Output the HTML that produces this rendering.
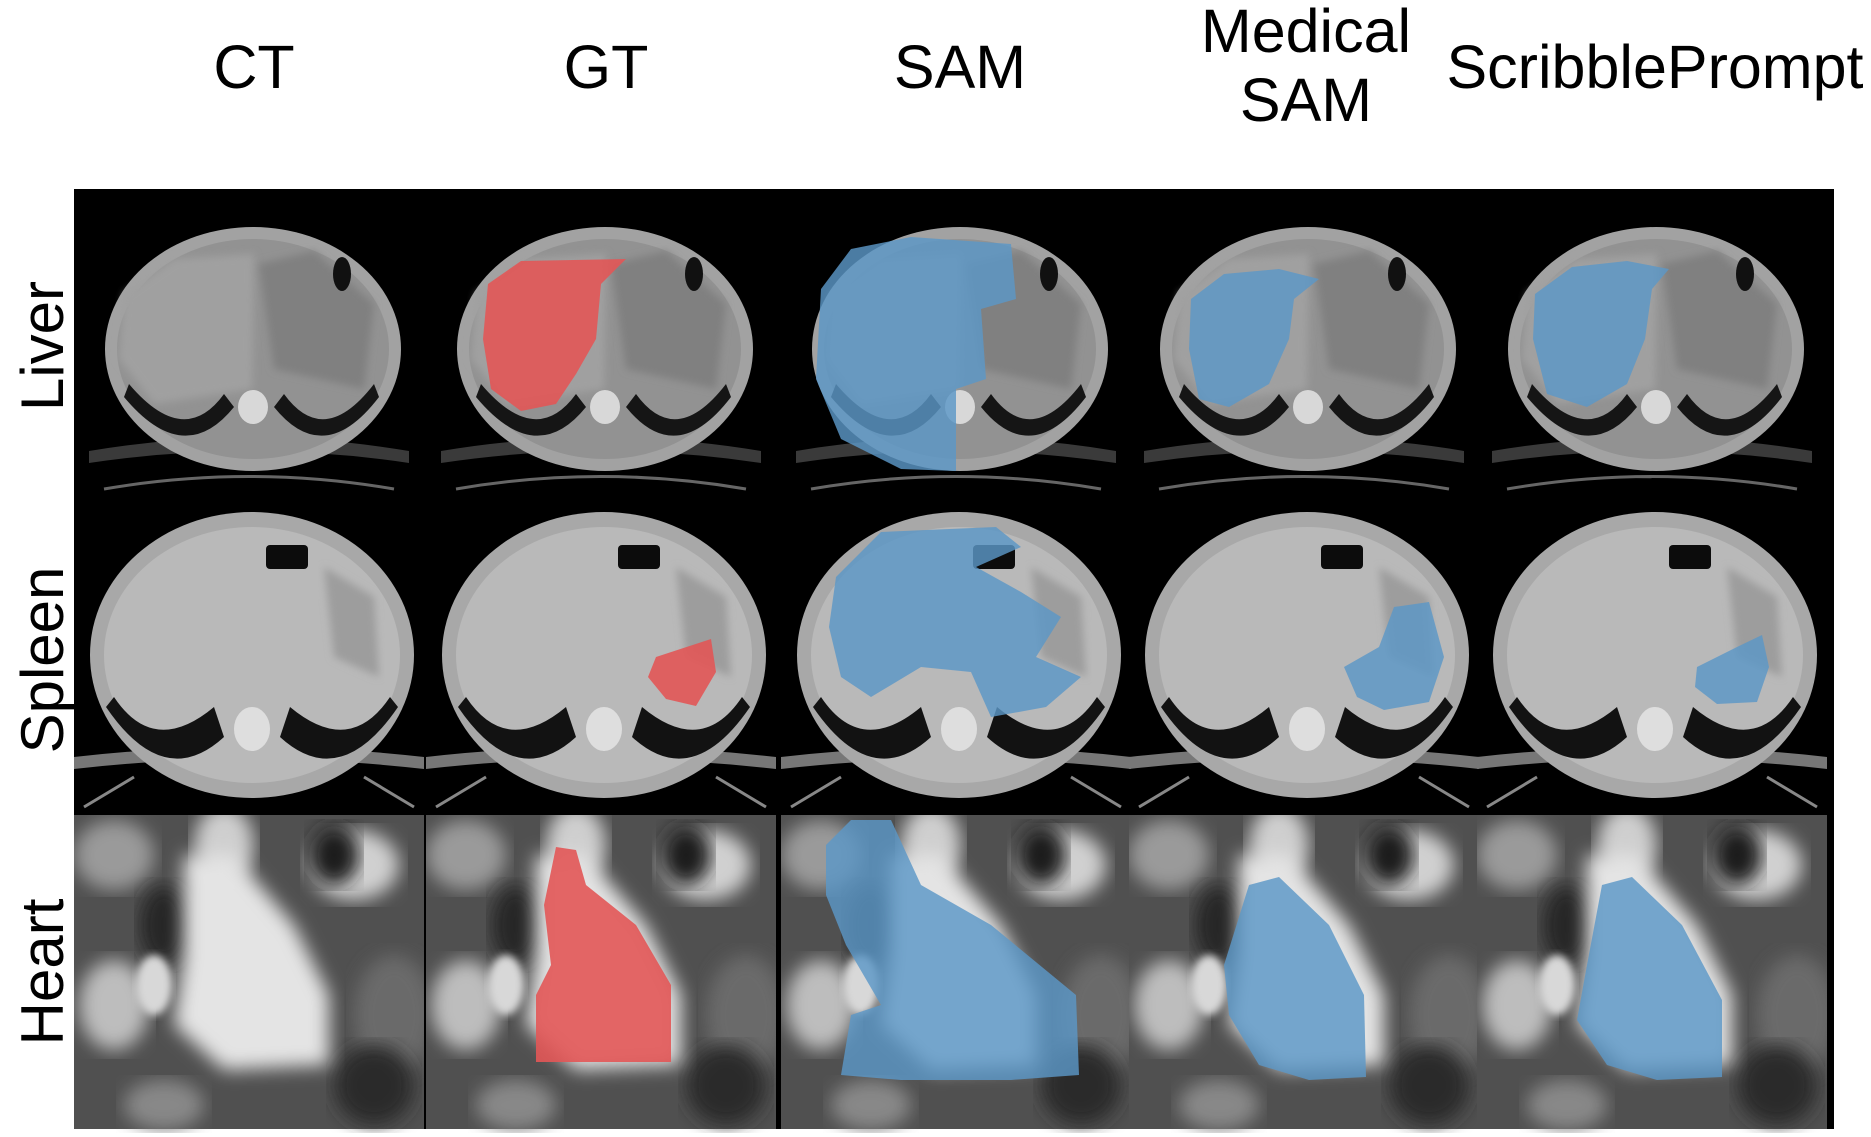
<!DOCTYPE html>
<html><head><meta charset="utf-8"><style>
html,body{margin:0;padding:0;background:#fff;width:1871px;height:1137px;overflow:hidden}
svg{display:block}
text{font-family:"Liberation Sans",Arial,sans-serif;fill:#000}
</style></head><body>
<svg id="fig" width="1871" height="1137" viewBox="0 0 1871 1137" xmlns="http://www.w3.org/2000/svg">
<defs>
<filter id="blur4"><feGaussianBlur stdDeviation="4"/></filter>
<filter id="blur8"><feGaussianBlur stdDeviation="9"/></filter>
<clipPath id="cellclip"><rect x="0" y="0" width="350" height="318"/></clipPath>
</defs>
<rect x="74" y="189" width="1760" height="940" fill="#000"/>
<g id="headers">
<text x="254" y="88" font-size="61" text-anchor="middle">CT</text>
<text x="606" y="88" font-size="61" text-anchor="middle">GT</text>
<text x="960" y="88" font-size="61" text-anchor="middle">SAM</text>
<text x="1306" y="52" font-size="61" text-anchor="middle"><tspan x="1306">Medical</tspan><tspan x="1306" dy="69">SAM</tspan></text>
<text x="1655" y="88" font-size="61" text-anchor="middle">ScribblePrompt</text>
</g>
<text transform="translate(63,346) rotate(-90)" font-size="60" text-anchor="middle">Liver</text>
<text transform="translate(63,660) rotate(-90)" font-size="60" text-anchor="middle">Spleen</text>
<text transform="translate(63,972) rotate(-90)" font-size="60" text-anchor="middle">Heart</text>
<g id="cells"></g>
</svg>
<script>
const colX = [74, 426, 781, 1129, 1477];
const rowY = [189, 507, 815];
const rowH = [318, 308, 314];
const colNames = ['ct','gt','sam','medical-sam','scribbleprompt'];
const rowNames = ['liver','spleen','heart'];
const masks = [
 [null,
  "M62,95 L95,72 L200,70 L175,95 L170,150 L150,185 L130,215 L95,222 L65,200 L57,150 Z",
  "M40,100 L70,60 L130,48 L230,55 L235,110 L200,120 L205,190 L175,200 L175,282 L120,280 L60,250 L35,190 Z",
  "M62,110 L95,85 L150,80 L190,90 L165,110 L160,150 L140,195 L100,218 L70,210 L60,160 Z",
  "M58,105 L95,78 L150,72 L192,80 L175,100 L168,150 L150,195 L110,218 L70,205 L56,150 Z"],
 [null,
  "M230,150 L285,132 L290,165 L270,199 L240,192 L222,170 Z",
  "M55,70 L100,25 L215,20 L240,40 L195,60 L240,85 L280,110 L255,150 L300,170 L265,200 L210,210 L190,165 L140,160 L90,190 L60,170 L48,120 Z",
  "M215,160 L250,140 L265,100 L300,95 L315,150 L300,195 L255,203 L228,190 Z",
  "M220,160 L260,140 L285,128 L292,160 L280,195 L240,197 L218,180 Z"],
 [null,
  "M130,32 L150,35 L160,70 L210,110 L245,170 L245,247 L110,247 L110,180 L125,150 L118,90 Z",
  "M45,30 L70,5 L110,5 L140,70 L210,110 L295,180 L298,260 L230,265 L120,265 L60,260 L70,200 L100,190 L65,130 L45,80 Z",
  "M120,70 L150,62 L200,110 L235,180 L237,262 L180,265 L130,250 L100,200 L95,150 Z",
  "M125,70 L155,62 L205,110 L245,185 L245,262 L180,265 L130,250 L100,205 L110,150 Z"]
];
const maskColor = ['none','#e25656','#5b97c7','#5b97c7','#5b97c7'];
const g = document.getElementById('cells');
const NS = 'http://www.w3.org/2000/svg';
function mk(tag, attrs, parent){ const e=document.createElementNS(NS,tag); for(const k in attrs) e.setAttribute(k,attrs[k]); parent.appendChild(e); return e; }
function drawLiver(c){
  mk('path',{d:"M15,262 Q175,235 335,262 L335,274 Q175,250 15,274 Z",fill:'#3a3a3a'},c);
  mk('path',{d:"M30,300 Q175,275 320,300",stroke:'#666','stroke-width':3,fill:'none'},c);
  mk('ellipse',{cx:179,cy:160,rx:148,ry:122,fill:'#a2a2a2'},c);
  mk('ellipse',{cx:179,cy:160,rx:136,ry:110,fill:'#929292'},c);
  mk('path',{d:"M50,105 L100,70 L180,65 L178,200 L80,215 L45,170 Z",fill:'#a0a0a0',filter:'url(#blur4)'},c);
  mk('path',{d:"M185,75 L240,62 L300,115 L290,200 L200,180 Z",fill:'#808080',filter:'url(#blur4)'},c);
  mk('ellipse',{cx:268,cy:85,rx:9,ry:17,fill:'#111'},c);
  mk('path',{d:"M55,195 Q110,260 150,205 L160,218 Q110,280 50,208 Z",fill:'#151515'},c);
  mk('path',{d:"M300,195 Q250,260 210,205 L200,218 Q250,280 305,208 Z",fill:'#151515'},c);
  mk('ellipse',{cx:179,cy:218,rx:15,ry:17,fill:'#d8d8d8'},c);
}
function drawSpleen(c){
  mk('path',{d:"M0,250 Q175,230 350,250 L350,262 Q175,242 0,262 Z",fill:'#777'},c);
  mk('path',{d:"M10,300 L60,270 M340,300 L290,270",stroke:'#888','stroke-width':3},c);
  mk('ellipse',{cx:178,cy:148,rx:162,ry:143,fill:'#a8a8a8'},c);
  mk('ellipse',{cx:178,cy:148,rx:148,ry:128,fill:'#b9b9b9'},c);
  mk('path',{d:"M40,190 Q80,250 140,200 L150,230 Q90,285 32,200 Z",fill:'#121212'},c);
  mk('path',{d:"M316,190 Q276,250 216,200 L206,230 Q266,285 324,200 Z",fill:'#121212'},c);
  mk('rect',{x:192,y:38,width:42,height:24,rx:4,fill:'#0c0c0c'},c);
  mk('path',{d:"M250,60 L300,90 L305,170 L260,150 Z",fill:'#9d9d9d',filter:'url(#blur4)'},c);
  mk('ellipse',{cx:178,cy:222,rx:18,ry:22,fill:'#dedede'},c);
}
function drawHeart(c){
  mk('rect',{x:0,y:0,width:350,height:314,fill:'#505050'},c);
  const blobs=[[40,40,40,35,'#9a9a9a'],[150,30,30,40,'#cfcfcf'],[280,50,45,35,'#d0d0d0'],[40,190,35,45,'#bdbdbd'],[320,200,40,60,'#6a6a6a'],[90,290,40,25,'#888'],[260,40,25,30,'#1f1f1f'],[90,110,25,40,'#262626'],[300,270,40,40,'#2a2a2a']];
  blobs.forEach(b=>mk('ellipse',{cx:b[0],cy:b[1],rx:b[2],ry:b[3],fill:b[4],filter:'url(#blur8)'},c));
  mk('path',{d:"M110,40 L160,40 L220,110 L255,180 L255,250 L150,255 L100,210 L110,140 Z",fill:'#e4e4e4',filter:'url(#blur8)'},c);
  mk('ellipse',{cx:80,cy:170,rx:18,ry:30,fill:'#d8d8d8',filter:'url(#blur4)'},c);
}
for(let r=0;r<3;r++){
  for(let ci=0;ci<5;ci++){
    const cell=mk('g',{transform:`translate(${colX[ci]},${rowY[r]})`},g);
    
    
    const inner=mk('g',{'clip-path':'url(#cellclip)'},cell);
    if(r===0) drawLiver(inner); else if(r===1) drawSpleen(inner); else drawHeart(inner);
    const m=masks[r][ci];
    if(m){
      const p=mk('path',{d:m,fill:maskColor[ci],'fill-opacity':ci===1?0.9:0.82},inner);
      
      
    }
  }
}
</script>
</body></html>
